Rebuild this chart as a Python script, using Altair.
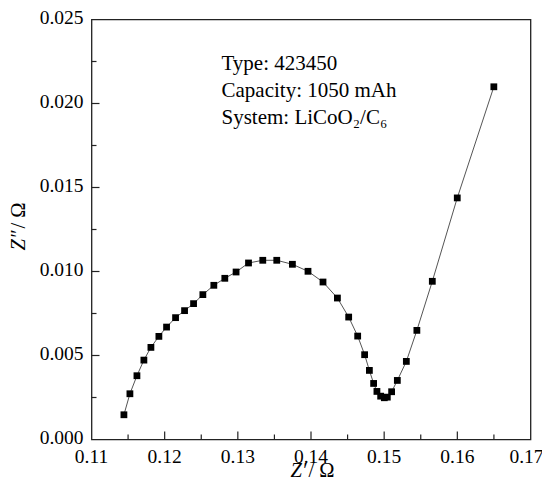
import altair as alt
import pandas as pd

z_real = [0.11443, 0.11525, 0.11621, 0.11716, 0.11812, 0.11921, 0.12026, 0.12149,
          0.12272, 0.12395, 0.12522, 0.12672, 0.12822, 0.12976, 0.13146, 0.13341,
          0.13532, 0.13746, 0.13959, 0.14164, 0.14361, 0.14515, 0.14638, 0.14733,
          0.14798, 0.14856, 0.14901, 0.14952, 0.15002, 0.15043, 0.15102, 0.15180,
          0.15303, 0.15447, 0.15658, 0.15999, 0.16499]
z_imag = [0.001472, 0.002723, 0.003796, 0.004726, 0.005483, 0.006138, 0.006692, 0.007253,
          0.007670, 0.008087, 0.008623, 0.009178, 0.009595, 0.009970, 0.010507, 0.010667,
          0.010667, 0.010429, 0.010012, 0.009374, 0.008421, 0.007288, 0.006156, 0.005048,
          0.004112, 0.003337, 0.002861, 0.002580, 0.002485, 0.002521, 0.002843, 0.003516,
          0.004648, 0.006496, 0.009416, 0.014380, 0.020995]

x_major = [0.11, 0.12, 0.13, 0.14, 0.15, 0.16, 0.17]
x_labels = ["0.11", "0.12", "0.13", "0.14", "0.15", "0.16", "0.17"]
x_minor = [0.115, 0.125, 0.135, 0.145, 0.155, 0.165]
y_major = [0.000, 0.005, 0.010, 0.015, 0.020, 0.025]
y_labels = ["0.000", "0.005", "0.010", "0.015", "0.020", "0.025"]
y_minor = [0.0025, 0.0075, 0.0125, 0.0175, 0.0225]

info_lines = ["Type: 423450", "Capacity: 1050 mAh", "System: LiCoO\u2082/C\u2086"]

FONT = "Liberation Serif"
LAB = 19.5
TIT = 20.5
W, H = 439, 420

df = pd.DataFrame({"i": list(range(len(z_real))), "v": z_real, "w": z_imag})
one = pd.DataFrame({"a": [0]})

xs = alt.Scale(domain=[0.11, 0.17], nice=False, zero=False)
ys = alt.Scale(domain=[0.0, 0.025], nice=False, zero=False)

X = alt.X("v:Q", scale=xs, axis=None)
Y = alt.Y("w:Q", scale=ys, axis=None)

base = alt.Chart(df)
line = base.mark_line(color="#555555", strokeWidth=1).encode(x=X, y=Y, order="i:Q")
pts = base.mark_square(size=46, color="black", opacity=1).encode(x=X, y=Y)

tick_color = "#222222"
xt_major = alt.Chart(pd.DataFrame({"v": x_major[1:-1]})).mark_rule(color=tick_color, strokeWidth=1.2).encode(
    x=X, y=alt.value(H), y2=alt.value(H - 8))
xt_minor = alt.Chart(pd.DataFrame({"v": x_minor})).mark_rule(color=tick_color, strokeWidth=1.2).encode(
    x=X, y=alt.value(H), y2=alt.value(H - 5))
yt_major = alt.Chart(pd.DataFrame({"w": y_major[1:-1]})).mark_rule(color=tick_color, strokeWidth=1.2).encode(
    y=Y, x=alt.value(0), x2=alt.value(8))
yt_minor = alt.Chart(pd.DataFrame({"w": y_minor})).mark_rule(color=tick_color, strokeWidth=1.2).encode(
    y=Y, x=alt.value(0), x2=alt.value(5))

# tick labels as text marks (serif)
xl_main = alt.Chart(pd.DataFrame({"v": x_major[:-1], "lab": x_labels[:-1]})).mark_text(
    align="center", baseline="alphabetic", font=FONT, fontSize=LAB, color="black").encode(
    x=X, y=alt.value(H + 23.5), text="lab:N")
xl_last = alt.Chart(pd.DataFrame({"v": x_major[-1:], "lab": x_labels[-1:]})).mark_text(
    align="center", baseline="alphabetic", font=FONT, fontSize=LAB, color="black", dx=-4).encode(
    x=X, y=alt.value(H + 23.5), text="lab:N")
yl = alt.Chart(pd.DataFrame({"w": y_major, "lab": y_labels})).mark_text(
    align="right", baseline="alphabetic", font=FONT, fontSize=LAB, color="black", dy=4.5).encode(
    y=Y, x=alt.value(-8), text="lab:N")

info_layers = []
for k, t in enumerate(info_lines):
    info_layers.append(
        alt.Chart(one).mark_text(align="left", baseline="alphabetic", font=FONT, fontSize=21,
                                 color="black").encode(
            x=alt.value(130), y=alt.value(50 + 27 * k), text=alt.value(t))
    )

# axis titles (italic Z with primes, upright "/Ω")
xt1 = alt.Chart(one).mark_text(align="right", baseline="alphabetic", font=FONT, fontSize=TIT,
                               fontStyle="italic", color="black").encode(
    x=alt.value(215), y=alt.value(457.5), text=alt.value("Z\u2032"))
xt2 = alt.Chart(one).mark_text(align="left", baseline="alphabetic", font=FONT, fontSize=TIT,
                               color="black").encode(
    x=alt.value(217), y=alt.value(457.5), text=alt.value("/ \u03a9"))
yt1 = alt.Chart(one).mark_text(align="right", baseline="alphabetic", font=FONT, fontSize=TIT,
                               fontStyle="italic", angle=270, color="black").encode(
    x=alt.value(-67), y=alt.value(211), text=alt.value("Z\u2033"))
yt2 = alt.Chart(one).mark_text(align="left", baseline="alphabetic", font=FONT, fontSize=TIT,
                               angle=270, color="black").encode(
    x=alt.value(-67), y=alt.value(209), text=alt.value("/ \u03a9"))

chart = alt.layer(
    line, pts, xt_major, xt_minor, yt_major, yt_minor, xl_main, xl_last, yl,
    *info_layers, xt1, xt2, yt1, yt2
).properties(
    width=W, height=H,
    autosize=alt.AutoSizeParams(type="none"),
    padding={"left": 83.5, "top": 11.5, "right": 11.5, "bottom": 38.5},
    background="white",
).configure_view(
    stroke="#222222", strokeWidth=1.3
)

chart.save("out.html", embed_options={"renderer": "svg", "actions": False})
